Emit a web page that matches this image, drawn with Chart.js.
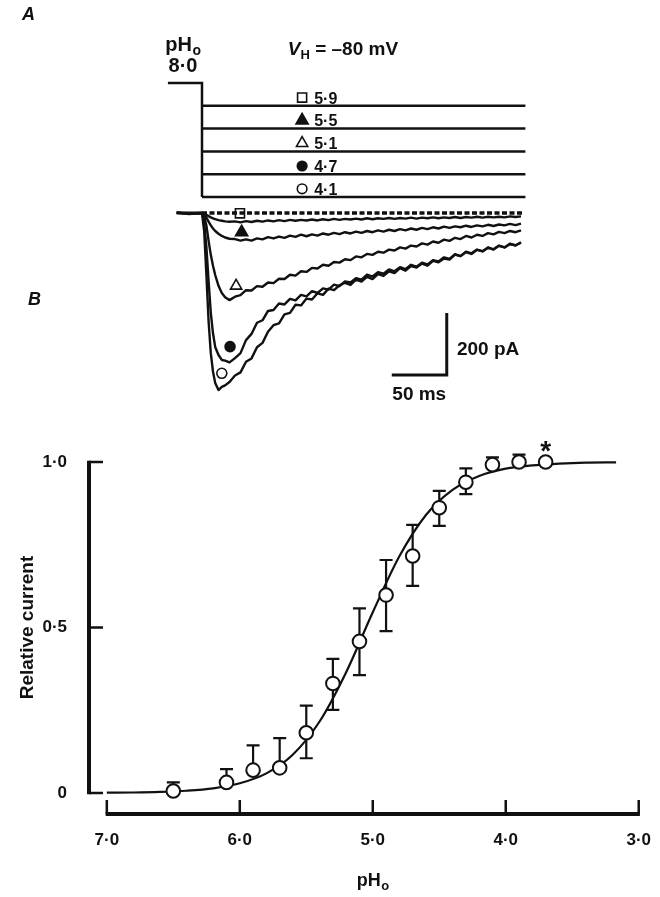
<!DOCTYPE html>
<html>
<head>
<meta charset="utf-8">
<script src="https://cdn.jsdelivr.net/npm/chart.js@4"></script>
<style>
html, body { margin: 0; padding: 0; background: #fff; }
#wrap { position: relative; width: 660px; height: 897px; }
canvas { position: absolute; left: 0; top: 0; }
</style>
</head>
<body>
<div id="wrap">
<canvas id="traceChart" width="660" height="897"></canvas>
<canvas id="doseChart" width="660" height="897"></canvas>
</div>
<script>
var FONT = '"Liberation Sans", Arial, Helvetica, sans-serif';
var INK = '#111';

// ---- panel A : current traces (ms, pA) ----
var traceTime = [-23, -12, 0, 2, 4, 6, 8, 10, 12, 15, 18, 21, 25,
  30, 35, 40, 45, 50, 55, 60, 65, 70, 75,
  80, 85, 90, 95, 100, 105, 110, 115, 120, 125,
  130, 135, 140, 145, 150, 155, 160, 165, 170, 175,
  180, 185, 190, 195, 200, 205, 210, 215, 220, 225,
  230, 235, 240, 245, 250, 255, 260, 265, 270, 275,
  280, 285, 290];

var trace59 = [0, 1, 0, -2, -6, -10, -14, -17, -20, -23, -25, -27, -28,
  -27, -30, -26, -29, -25, -28, -24, -27, -23, -26,
  -22, -25, -22, -24, -21, -24, -20, -23, -19, -22,
  -19, -21, -18, -21, -17, -20, -17, -19, -16, -19,
  -16, -18, -15, -18, -15, -17, -14, -17, -14, -16,
  -13, -16, -13, -15, -12, -15, -12, -14, -12, -14,
  -11, -13, -11];

var trace55 = [0, -1, 0, -5, -15, -28, -40, -50, -58, -67, -74, -79, -83,
  -84, -89, -85, -89, -82, -85, -78, -82, -76, -80,
  -73, -77, -70, -75, -69, -73, -66, -70, -64, -68,
  -62, -66, -60, -64, -58, -62, -56, -60, -54, -58,
  -52, -56, -50, -54, -48, -52, -46, -50, -44, -48,
  -43, -46, -41, -45, -40, -43, -38, -42, -37, -40,
  -35, -39, -34];

var trace51 = [1, -1, 0, -10, -40, -90, -135, -170, -200, -235, -258, -272, -281,
  -270, -265, -249, -250, -236, -238, -224, -226, -212, -213,
  -199, -202, -188, -190, -177, -179, -167, -170, -158, -160,
  -149, -152, -140, -143, -132, -135, -125, -128, -118, -121,
  -111, -115, -105, -108, -98, -102, -92, -96, -86, -90,
  -80, -84, -74, -79, -70, -74, -65, -69, -61, -65,
  -58, -62, -56];

var trace47 = [1, -2, 0, -30, -110, -220, -322, -388, -432, -458, -474, -476, -482,
  -468, -452, -410, -390, -354, -346, -316, -313, -292, -295,
  -277, -282, -264, -269, -252, -258, -243, -247, -231, -236,
  -221, -224, -210, -215, -199, -205, -191, -196, -182, -188,
  -175, -181, -167, -173, -160, -166, -152, -156, -143, -148,
  -133, -139, -125, -130, -118, -123, -111, -117, -105, -111,
  -99, -105, -94];

var trace41 = [2, -3, 0, -60, -200, -350, -452, -512, -548, -571, -561, -556, -545,
  -524, -514, -480, -469, -433, -419, -383, -362, -356, -327,
  -322, -296, -298, -276, -279, -259, -264, -244, -249, -233,
  -225, -232, -215, -221, -206, -213, -197, -203, -188, -194,
  -178, -186, -171, -176, -163, -170, -154, -159, -147, -150,
  -134, -139, -126, -132, -119, -124, -112, -118, -106, -111,
  -100, -104, -96];

var traces = [trace59, trace55, trace51, trace47, trace41];
var stepLabels = ['8·0', '5·9', '5·5', '5·1', '4·7', '4·1'];
var markerTime = [34.5, 36, 31, 25.5, 18];
var markerCurrent = [-1, -62, -235, -431, -517];
var markerStyle = ['rect', 'triangle', 'triangle', 'circle', 'circle'];
var markerFill = ['#fff', INK, '#fff', INK, '#fff'];
var baselineTime = [0, 292];
var stepTime = [-31, 0, 294];
var scaleBarTime = [172.5, 222.5, 222.5];
var scaleBarCurrent = [-522.6, -522.6, -322.6];

// ---- panel B : relative current vs pHo ----
var phValues   = [6.5, 6.1, 5.9, 5.7, 5.5, 5.3, 5.1, 4.9, 4.7, 4.5, 4.3, 4.1, 3.9, 3.7];
var relCurrent = [0.006, 0.032, 0.069, 0.076, 0.182, 0.331, 0.458, 0.598, 0.716, 0.862, 0.939, 0.992, 1.0, 1.0];
var errUp      = [0.026, 0.04, 0.075, 0.09, 0.082, 0.074, 0.1, 0.106, 0.094, 0.051, 0.042, 0.022, 0.022, 0];
var errDown    = [0, 0, 0, 0, 0.077, 0.08, 0.102, 0.109, 0.09, 0.055, 0.036, 0, 0, 0];
var curvePH  = [7.0, 6.8, 6.6, 6.4, 6.2, 6.0, 5.8, 5.6, 5.4, 5.2, 5.0, 4.8, 4.6, 4.4, 4.2, 4.0, 3.8, 3.6, 3.4, 3.17];
var curveRel = [0.001, 0.0016, 0.0033, 0.0069, 0.0142, 0.0293, 0.0593, 0.1164, 0.216, 0.365, 0.546, 0.715, 0.84, 0.916, 0.958, 0.98, 0.99, 0.995, 0.998, 0.999];
var xTicks = [7, 6, 5, 4, 3];
var yTicks = [0, 0.5, 1];

function pts(xs, ys) {
  return xs.map(function (x, i) { return { x: x, y: ys[i] }; });
}

function fmt(v) {
  return v === 0 ? '0' : v.toFixed(1).replace('.', '·');
}

function drawSub(ctx, base, sub, x, y, size, align) {
  var small = Math.round(size * 0.7);
  ctx.font = 'bold ' + size + 'px ' + FONT;
  var w1 = ctx.measureText(base).width;
  ctx.font = 'bold ' + small + 'px ' + FONT;
  var w2 = ctx.measureText(sub).width;
  var x0 = align === 'center' ? x - (w1 + w2) / 2 : x;
  ctx.textAlign = 'left';
  ctx.textBaseline = 'alphabetic';
  ctx.font = 'bold ' + size + 'px ' + FONT;
  ctx.fillText(base, x0, y);
  ctx.font = 'bold ' + small + 'px ' + FONT;
  ctx.fillText(sub, x0 + w1 + 0.5, y + size * 0.2);
}

// ---------- chart A ----------
var aSets = [];
traces.forEach(function (tr) {
  aSets.push({ data: pts(traceTime, tr), showLine: true, borderColor: INK, borderWidth: 2.4,
    pointRadius: 0, borderJoinStyle: 'round', clip: false });
});
aSets.push({ data: pts(baselineTime, [0, 0]), showLine: true, borderColor: INK, borderWidth: 3.5,
  borderDash: [5, 2.5], pointRadius: 0, clip: false });
aSets.push({ yAxisID: 'yStep', data: pts([stepTime[0], stepTime[1], stepTime[1]], [0, 0, stepLabels.length - 1]),
  showLine: true, borderColor: INK, borderWidth: 2.5, pointRadius: 0, clip: false });
for (var r = 1; r < stepLabels.length; r++) {
  aSets.push({ yAxisID: 'yStep', data: pts([stepTime[1], stepTime[2]], [r, r]),
    showLine: true, borderColor: INK, borderWidth: 2.5, pointRadius: 0, clip: false });
}
aSets.push({ data: pts(markerTime, markerCurrent), pointStyle: markerStyle,
  pointRadius: [6.4, 7, 6.5, 5, 5], pointBackgroundColor: markerFill, pointBorderColor: INK,
  pointBorderWidth: 1.6, clip: false });
aSets.push({ yAxisID: 'yStep',
  data: stepLabels.slice(1).map(function (l, i) { return { x: 91, y: i + 1 - 0.36 }; }),
  pointStyle: markerStyle, pointRadius: [6.4, 7, 6.5, 4.8, 4.8], pointBackgroundColor: markerFill,
  pointBorderColor: INK, pointBorderWidth: 1.6, clip: false });
aSets.push({ data: pts(scaleBarTime, scaleBarCurrent), showLine: true, borderColor: INK,
  borderWidth: 3, pointRadius: 0, clip: false });

var textA = {
  id: 'textA',
  afterDraw: function (chart) {
    var ctx = chart.ctx, x = chart.scales.x, y = chart.scales.y, s = chart.scales.yStep;
    ctx.save();
    ctx.fillStyle = INK;
    ctx.font = 'italic bold 18px ' + FONT;
    ctx.textAlign = 'left';
    ctx.textBaseline = 'alphabetic';
    ctx.fillText('A', 22, 20);

    drawSub(ctx, 'pH', 'o', x.getPixelForValue(-17.3), s.getPixelForValue(-1.4), 20, 'center');
    ctx.font = 'bold 20px ' + FONT;
    ctx.textAlign = 'center';
    ctx.fillText(stepLabels[0], x.getPixelForValue(-17.3), s.getPixelForValue(-0.5));

    // V_H = -80 mV
    var vx = x.getPixelForValue(78), vy = s.getPixelForValue(-1.23);
    ctx.textAlign = 'left';
    ctx.font = 'italic bold 19px ' + FONT;
    ctx.fillText('V', vx, vy);
    var w = ctx.measureText('V').width;
    ctx.font = 'bold 13px ' + FONT;
    ctx.fillText('H', vx + w, vy + 4);
    var w2 = ctx.measureText('H').width;
    ctx.font = 'bold 19px ' + FONT;
    ctx.fillText(' = –80 mV', vx + w + w2, vy);

    ctx.font = 'bold 16px ' + FONT;
    for (var i = 1; i < stepLabels.length; i++) {
      ctx.fillText(stepLabels[i], x.getPixelForValue(102), s.getPixelForValue(i - 0.1));
    }

    ctx.font = 'bold 19px ' + FONT;
    ctx.fillText('200 pA', x.getPixelForValue(231.8), y.getPixelForValue(-458));
    ctx.textAlign = 'center';
    ctx.fillText('50 ms', x.getPixelForValue(197.5), y.getPixelForValue(-603));
    ctx.restore();
  }
};

new Chart(document.getElementById('traceChart'), {
  type: 'scatter',
  data: { datasets: aSets },
  options: {
    responsive: false,
    animation: false,
    events: [],
    layout: { padding: { left: 158, right: 128, top: 40, bottom: 497 } },
    plugins: { legend: { display: false }, tooltip: { enabled: false } },
    scales: {
      x: { type: 'linear', display: false, min: -40, max: 300 },
      y: { type: 'linear', display: false, min: -603.2, max: 558.1 },
      yStep: { type: 'linear', axis: 'y', display: false, min: -1.886, max: 13.904, reverse: true }
    }
  },
  plugins: [textA]
});

// ---------- chart B ----------
var axesB = {
  id: 'axesB',
  beforeDatasetsDraw: function (chart) {
    var ctx = chart.ctx, x = chart.scales.x, y = chart.scales.y;
    ctx.save();
    ctx.strokeStyle = INK;
    ctx.lineWidth = 2.2;
    phValues.forEach(function (ph, i) {
      var px = x.getPixelForValue(ph), py = y.getPixelForValue(relCurrent[i]);
      [errUp[i], -errDown[i]].forEach(function (e) {
        if (!e) return;
        var ey = y.getPixelForValue(relCurrent[i] + e);
        ctx.beginPath();
        ctx.moveTo(px, py);
        ctx.lineTo(px, ey);
        ctx.moveTo(px - 6.5, ey);
        ctx.lineTo(px + 6.5, ey);
        ctx.stroke();
      });
    });
    ctx.restore();
  },
  afterDraw: function (chart) {
    var ctx = chart.ctx, x = chart.scales.x, y = chart.scales.y;
    var left = chart.chartArea.left, bottom = chart.chartArea.bottom + 1;
    ctx.save();
    ctx.strokeStyle = INK;
    ctx.fillStyle = INK;

    // y axis
    var yTop = y.getPixelForValue(yTicks[yTicks.length - 1]);
    var yBot = y.getPixelForValue(yTicks[0]);
    ctx.lineWidth = 4;
    ctx.beginPath();
    ctx.moveTo(left, yTop - 1.2);
    ctx.lineTo(left, yBot + 1.2);
    ctx.stroke();
    ctx.lineWidth = 2.5;
    ctx.beginPath();
    yTicks.forEach(function (v) {
      var py = y.getPixelForValue(v);
      ctx.moveTo(left, py);
      ctx.lineTo(left + 14, py);
    });
    ctx.stroke();

    // x axis
    var xl = x.getPixelForValue(xTicks[0]), xr = x.getPixelForValue(xTicks[xTicks.length - 1]);
    ctx.lineWidth = 4;
    ctx.beginPath();
    ctx.moveTo(xl - 1.2, bottom);
    ctx.lineTo(xr + 1.2, bottom);
    ctx.stroke();
    ctx.lineWidth = 2.5;
    ctx.beginPath();
    xTicks.forEach(function (v) {
      var px = x.getPixelForValue(v);
      ctx.moveTo(px, bottom);
      ctx.lineTo(px, bottom - 14);
    });
    ctx.stroke();

    // asterisk over the reference point
    var last = phValues.length - 1;
    ctx.font = 'bold 28px ' + FONT;
    ctx.textAlign = 'center';
    ctx.textBaseline = 'alphabetic';
    ctx.fillText('*', x.getPixelForValue(phValues[last]), y.getPixelForValue(relCurrent[last]) - 2);

    // titles
    drawSub(ctx, 'pH', 'o', x.getPixelForValue(5), 886, 18, 'center');
    ctx.save();
    ctx.translate(28, y.getPixelForValue(0.5));
    ctx.rotate(-Math.PI / 2);
    ctx.font = 'bold 19px ' + FONT;
    ctx.textAlign = 'center';
    ctx.textBaseline = 'middle';
    ctx.fillText('Relative current', 0, 0);
    ctx.restore();

    ctx.font = 'italic bold 18px ' + FONT;
    ctx.textAlign = 'left';
    ctx.textBaseline = 'alphabetic';
    ctx.fillText('B', 28, 305);
    ctx.restore();
  }
};

new Chart(document.getElementById('doseChart'), {
  type: 'scatter',
  data: {
    datasets: [
      { data: pts(phValues, relCurrent), pointRadius: 6.8, pointBorderWidth: 2,
        pointBorderColor: INK, pointBackgroundColor: '#fff', clip: false },
      { data: pts(curvePH, curveRel), showLine: true, borderColor: INK, borderWidth: 2.2,
        pointRadius: 0, cubicInterpolationMode: 'monotone', clip: false }
    ]
  },
  options: {
    responsive: false,
    animation: false,
    events: [],
    layout: { padding: { left: 0, right: 17, top: 462, bottom: 0 } },
    plugins: { legend: { display: false }, tooltip: { enabled: false } },
    scales: {
      x: {
        type: 'linear', reverse: true, min: 3, max: 7.134,
        border: { display: false }, grid: { display: false },
        afterFit: function (s) { s.height = 84; },
        afterBuildTicks: function (s) { s.ticks = xTicks.map(function (v) { return { value: v }; }); },
        ticks: { padding: 9, color: INK, maxRotation: 0, font: { family: FONT, size: 17, weight: 'bold' },
          callback: function (v) { return fmt(v); } }
      },
      y: {
        type: 'linear', min: -0.0604, max: 1,
        border: { display: false }, grid: { display: false },
        afterFit: function (s) { s.width = 89; },
        afterBuildTicks: function (s) { s.ticks = yTicks.map(function (v) { return { value: v }; }); },
        ticks: { padding: 14, color: INK, font: { family: FONT, size: 17, weight: 'bold' },
          callback: function (v) { return fmt(v); } }
      }
    }
  },
  plugins: [axesB]
});
</script>
</body>
</html>
